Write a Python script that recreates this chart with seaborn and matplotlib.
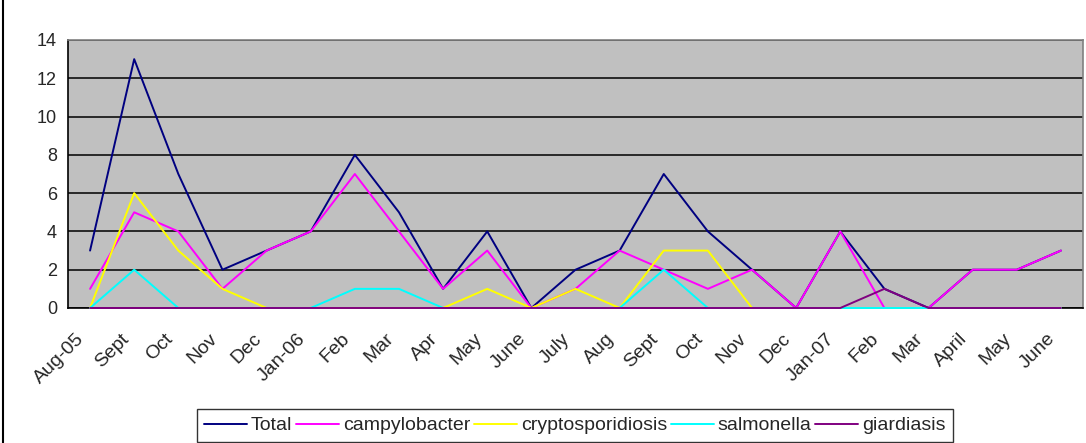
import pandas as pd
import matplotlib
matplotlib.use("Agg")
import matplotlib.pyplot as plt
import matplotlib.transforms as mtransforms
import seaborn as sns

months = ["Aug-05", "Sept", "Oct", "Nov", "Dec", "Jan-06", "Feb", "Mar", "Apr", "May",
          "June", "July", "Aug", "Sept", "Oct", "Nov", "Dec", "Jan-07", "Feb", "Mar",
          "April", "May", "June"]
total = [3, 13, 7, 2, 3, 4, 8, 5, 1, 4, 0, 2, 3, 7, 4, 2, 0, 4, 1, 0, 2, 2, 3]
campylobacter = [1, 5, 4, 1, 3, 4, 7, 4, 1, 3, 0, 1, 3, 2, 1, 2, 0, 4, 0, 0, 2, 2, 3]
cryptosporidiosis = [0, 6, 3, 1, 0, 0, 0, 0, 0, 1, 0, 1, 0, 3, 3, 0, 0, 0, 0, 0, 0, 0, 0]
salmonella = [0, 2, 0, 0, 0, 0, 1, 1, 0, 0, 0, 0, 0, 2, 0, 0, 0, 0, 0, 0, 0, 0, 0]
giardiasis = [0, 0, 0, 0, 0, 0, 0, 0, 0, 0, 0, 0, 0, 0, 0, 0, 0, 0, 1, 0, 0, 0, 0]

series = {
    "Total": total,
    "campylobacter": campylobacter,
    "cryptosporidiosis": cryptosporidiosis,
    "salmonella": salmonella,
    "giardiasis": giardiasis,
}
colors = ["#000080", "#FF00FF", "#FFFF00", "#00FFFF", "#800080"]

rows = []
for name, vals in series.items():
    for i, v in enumerate(vals):
        rows.append({"idx": i, "cases": v, "disease": name})
df = pd.DataFrame(rows)

sns.set_style("white")
plt.rcParams["font.family"] = ["Liberation Sans", "DejaVu Sans"]

fig = plt.figure(figsize=(10.86, 4.43), dpi=100)
ax = fig.add_axes([68 / 1086, (443 - 308) / 443, (1083 - 68) / 1086, (308 - 40) / 443])
ax.set_facecolor("#C0C0C0")

sns.lineplot(data=df, x="idx", y="cases", hue="disease", hue_order=list(series.keys()),
             palette=colors, linewidth=1.4, sort=False, ax=ax, legend=False)
for ln in ax.get_lines():
    ln.set_clip_on(False)
    ln.set_zorder(3)

ax.set_xlim(-0.5, len(months) - 0.5)
ax.set_ylim(0, 14)
ax.set_yticks(range(0, 15, 2))
ax.yaxis.grid(True, color="black", linewidth=1.1)
ax.set_axisbelow(True)

ax.set_xticks([i + 0.5 for i in range(-1, len(months))], minor=False)
ax.set_xticklabels([])
ax.set_xticks(range(len(months)), minor=True)
ax.set_xticklabels(months, minor=True, rotation=45, ha="right", va="top",
                   rotation_mode="anchor", fontsize=14)
ax.tick_params(axis="x", which="minor", length=0, pad=16)
ax.tick_params(axis="x", which="major", length=5, width=1, color="black", direction="out")
ax.tick_params(axis="y", length=5, width=1, color="black", direction="out", labelsize=13, pad=3)
# shift the slanted month labels a bit left, as Excel does
shift = mtransforms.ScaledTranslation(-14 / 100, 0, fig.dpi_scale_trans)
for lbl in ax.get_xticklabels(minor=True):
    lbl.set_transform(lbl.get_transform() + shift)
ax.set_xlabel("")
ax.set_ylabel("")

for side in ["left", "bottom"]:
    ax.spines[side].set_color("black")
    ax.spines[side].set_linewidth(1.2)
for side in ["top", "right"]:
    ax.spines[side].set_color("#808080")
    ax.spines[side].set_linewidth(1.2)

handles = [plt.Line2D([], [], color=c, linewidth=1.4) for c in colors]
leg = fig.legend(handles, list(series.keys()), loc="upper center", ncol=5,
                 bbox_to_anchor=(575 / 1086, 1 - 409 / 443), frameon=True, fancybox=False,
                 edgecolor="black", fontsize=14, handlelength=2.2, handletextpad=0.2,
                 columnspacing=0.2, borderpad=0.4, borderaxespad=0)
leg.get_frame().set_linewidth(1.0)

fig.add_artist(plt.Line2D([3 / 1086, 3 / 1086], [0, 1], color="black", linewidth=1.5,
                          transform=fig.transFigure))

fig.savefig("out.png", dpi=100, facecolor="white")
